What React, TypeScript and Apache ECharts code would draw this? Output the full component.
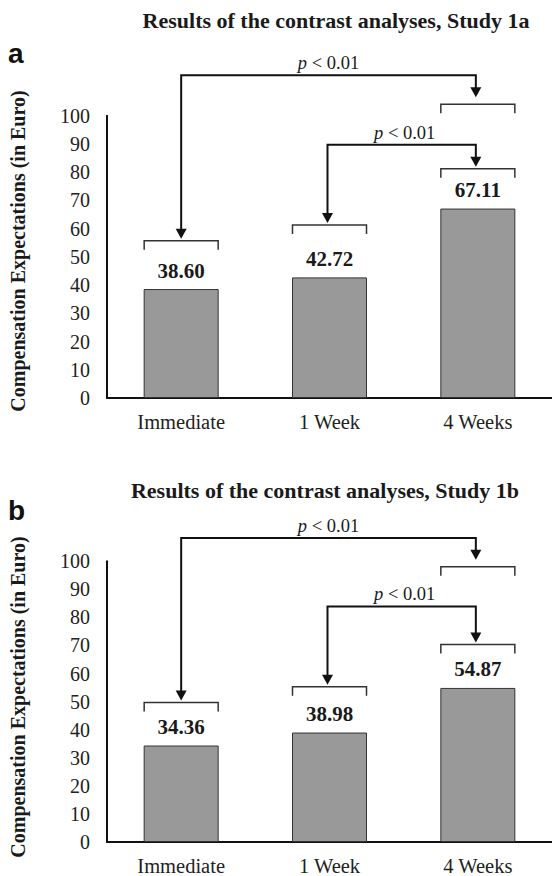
import React, { useEffect, useRef } from "react";
import * as echarts from "echarts";

// ---- Data ----
const categories = ["Immediate", "1 Week", "4 Weeks"];
const study1aValues = [38.6, 42.72, 67.11];
const study1bValues = [34.36, 38.98, 54.87];
const panelTitles = [
  "Results of the contrast analyses, Study 1a",
  "Results of the contrast analyses, Study 1b",
];
const panelLetters = ["a", "b"];
const yAxisTitle = "Compensation Expectations (in Euro)";
const contrastLabel = "< 0.01";

// annotation levels, in axis value units
const study1aBracketLevels = [55.7, 61.3, 81.2];
const study1bBracketLevels = [49.7, 55.3, 70.3];
const study1aUpperBracket = 104.1;
const study1bUpperBracket = 98.05;
const study1aLongArrowLevel = 114.3;
const study1bLongArrowLevel = 108.3;
const study1aShortArrowLevel = 89.7;
const study1bShortArrowLevel = 83.9;

const panels = [
  {
    values: study1aValues,
    brackets: study1aBracketLevels,
    upper: study1aUpperBracket,
    longArrow: study1aLongArrowLevel,
    shortArrow: study1aShortArrowLevel,
  },
  {
    values: study1bValues,
    brackets: study1bBracketLevels,
    upper: study1bUpperBracket,
    longArrow: study1bLongArrowLevel,
    shortArrow: study1bShortArrowLevel,
  },
];

// ---- Layout / style ----
const SERIF = "'Liberation Serif', 'Times New Roman', serif";
const SANS = "'Liberation Sans', Arial, sans-serif";
const GRID_LEFT = 107;
const GRID_WIDTH = 448.5;
const GRID_HEIGHT = 282.3;
const GRID_TOPS = [115.7, 561.2];
const TITLE_POS = [
  { x: 336, y: 20 },
  { x: 325, y: 490 },
];
const LETTER_POS = [
  { x: 8, y: 53 },
  { x: 8, y: 510 },
];
const YTITLE_POS = [
  { x: 18, y: 251 },
  { x: 18, y: 697 },
];
const BAR_WIDTH = 75;
const BRACKET_HALF = 37;
const BRACKET_TICK = 9;
const HEAD_W = 11;
const HEAD_H = 10;

function buildOption() {
  return {
    animation: false,
    backgroundColor: "#ffffff",
    grid: GRID_TOPS.map((top) => ({
      left: GRID_LEFT,
      top,
      width: GRID_WIDTH,
      height: GRID_HEIGHT,
      containLabel: false,
    })),
    xAxis: panels.map((_, i) => ({
      type: "category",
      gridIndex: i,
      data: categories,
      axisLine: { lineStyle: { color: "#111", width: 2 } },
      axisTick: { show: false },
      axisLabel: {
        fontFamily: SERIF,
        fontSize: 20.5,
        color: "#222",
        margin: 13,
      },
    })),
    yAxis: panels.map((_, i) => ({
      type: "value",
      gridIndex: i,
      min: 0,
      max: 100,
      interval: 10,
      splitLine: { show: false },
      axisLine: { show: true, lineStyle: { color: "#111", width: 2 } },
      axisTick: { show: false },
      axisLabel: {
        fontFamily: SERIF,
        fontSize: 20,
        color: "#222",
        margin: 17,
      },
    })),
    series: panels.map((p, i) => ({
      type: "bar",
      xAxisIndex: i,
      yAxisIndex: i,
      data: p.values,
      barWidth: BAR_WIDTH,
      itemStyle: { color: "#999999", borderColor: "#333", borderWidth: 1 },
      label: {
        show: true,
        position: "top",
        distance: 8,
        formatter: (d: any) => Number(d.value).toFixed(2),
        fontFamily: SERIF,
        fontWeight: "bold",
        fontSize: 21,
        color: "#1a1a1a",
      },
    })),
  };
}

function staticTexts() {
  const els: any[] = [];
  panels.forEach((_, i) => {
    els.push({
      type: "text",
      x: TITLE_POS[i].x,
      y: TITLE_POS[i].y,
      style: {
        text: panelTitles[i],
        fontFamily: SERIF,
        fontWeight: "bold",
        fontSize: 22,
        fill: "#1a1a1a",
        align: "center",
        verticalAlign: "middle",
      },
    });
    els.push({
      type: "text",
      x: LETTER_POS[i].x,
      y: LETTER_POS[i].y,
      style: {
        text: panelLetters[i],
        fontFamily: SANS,
        fontWeight: "bold",
        fontSize: 28,
        fill: "#111",
        align: "left",
        verticalAlign: "middle",
      },
    });
    els.push({
      type: "text",
      x: YTITLE_POS[i].x,
      y: YTITLE_POS[i].y,
      rotation: Math.PI / 2,
      style: {
        text: yAxisTitle,
        fontFamily: SERIF,
        fontWeight: "bold",
        fontSize: 20,
        fill: "#1a1a1a",
        align: "center",
        verticalAlign: "middle",
      },
    });
  });
  return els;
}

export default function App() {
  const ref = useRef<HTMLDivElement>(null);
  useEffect(() => {
    if (!ref.current) return;
    const chart = echarts.init(ref.current, null, { renderer: "svg" });
    chart.setOption(buildOption());

    const els: any[] = staticTexts();
    panels.forEach((p, i) => {
      const px = (cat: number, v: number) =>
        chart.convertToPixel({ gridIndex: i } as any, [cat, v]) as number[];
      const centers = categories.map((_, c) => px(c, 0)[0]);
      const bracketY = p.brackets.map((b, c) => px(c, b)[1]);
      const upperY = px(2, p.upper)[1];
      const longY = px(0, p.longArrow)[1];
      const shortY = px(0, p.shortArrow)[1];

      const bracket = (cx: number, y: number) => ({
        type: "polyline",
        shape: {
          points: [
            [cx - BRACKET_HALF, y + BRACKET_TICK],
            [cx - BRACKET_HALF, y],
            [cx + BRACKET_HALF, y],
            [cx + BRACKET_HALF, y + BRACKET_TICK],
          ],
        },
        style: { stroke: "#333", lineWidth: 1.5, fill: null },
      });
      const head = (cx: number, tip: number) => ({
        type: "polygon",
        shape: {
          points: [
            [cx - HEAD_W / 2, tip - HEAD_H],
            [cx + HEAD_W / 2, tip - HEAD_H],
            [cx, tip],
          ],
        },
        style: { fill: "#111" },
      });
      const arrow = (x1: number, tip1: number, x2: number, tip2: number, ly: number) => [
        {
          type: "polyline",
          shape: {
            points: [
              [x1, tip1 - HEAD_H + 1],
              [x1, ly],
              [x2, ly],
              [x2, tip2 - HEAD_H + 1],
            ],
          },
          style: { stroke: "#111", lineWidth: 2, fill: null },
        },
        head(x1, tip1),
        head(x2, tip2),
      ];
      const pText = (cx: number, ly: number) => ({
        type: "text",
        x: cx,
        y: ly - 12,
        style: {
          text: "{i|p} " + contrastLabel,
          fontFamily: SERIF,
          fontSize: 18.5,
          fill: "#1a1a1a",
          align: "center",
          verticalAlign: "middle",
          rich: {
            i: { fontFamily: SERIF, fontSize: 18.5, fontStyle: "italic", fill: "#1a1a1a" },
          },
        },
      });

      centers.forEach((cx, c) => els.push(bracket(cx, bracketY[c])));
      els.push(bracket(centers[2], upperY));

      const ax = centers.map((c, k) => (k === 0 ? c : c - 2));
      els.push(...arrow(ax[0], bracketY[0] - 2, ax[2], upperY - 7, longY));
      els.push(...arrow(ax[1], bracketY[1] - 2, ax[2], bracketY[2] - 2, shortY));
      els.push(pText((ax[0] + ax[2]) / 2, longY));
      els.push(pText((ax[1] + ax[2]) / 2 + 3, shortY));
    });

    chart.setOption({ graphic: { elements: els } });
    return () => chart.dispose();
  }, []);

  return (
    <div
      ref={ref}
      style={{ position: "fixed", left: 0, top: 0, width: 552, height: 876, background: "#fff" }}
    />
  );
}
